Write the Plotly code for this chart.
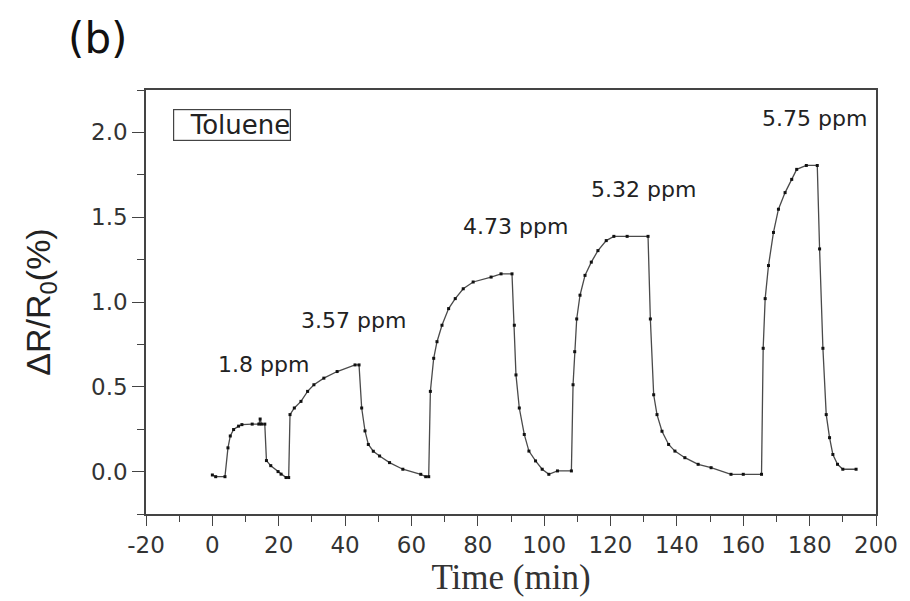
import plotly.graph_objects as go

# ---- data ----
time_min = [
    0.0, 1.0, 3.8,
    4.7, 5.4, 6.4, 7.9, 8.9, 12.0, 14.0, 14.4, 14.8, 15.8,
    16.3, 17.6, 19.8, 20.7, 22.2, 23.0,
    23.4, 24.7, 26.7, 28.7, 30.6, 33.6, 37.6, 43.0, 44.2,
    45.0, 46.0, 47.0, 48.5, 50.4, 53.4, 57.4, 62.8, 64.3, 65.2,
    65.7, 66.7, 67.7, 69.2, 71.2, 73.2, 75.6, 78.6, 84.0, 87.0, 90.3,
    91.0, 91.5, 92.5, 94.0, 95.4, 97.4, 99.4, 101.4, 104.0, 108.2,
    108.7, 109.2, 109.8, 110.8, 112.3, 114.2, 116.2, 118.7, 121.0, 125.0, 131.3,
    132.0, 133.0, 134.0, 135.5, 137.5, 139.4, 142.4, 146.4, 150.3, 156.3, 160.0, 165.5,
    166.0, 166.6, 167.6, 169.1, 170.6, 172.6, 174.6, 176.1, 179.0, 182.3,
    183.0, 184.0, 185.0, 186.0, 187.0, 188.4, 190.0, 194.0,
]
response_pct = [
    -0.02, -0.03, -0.03,
    0.14, 0.21, 0.248, 0.268, 0.277, 0.28, 0.28, 0.31, 0.28, 0.28,
    0.065, 0.035, 0.0, -0.015, -0.035, -0.035,
    0.336, 0.375, 0.414, 0.473, 0.512, 0.551, 0.59, 0.629, 0.629,
    0.375, 0.24, 0.16, 0.12, 0.092, 0.053, 0.014, -0.016, -0.03, -0.03,
    0.473, 0.668, 0.766, 0.863, 0.961, 1.02, 1.078, 1.118, 1.147, 1.166, 1.166,
    0.863, 0.57, 0.375, 0.219, 0.121, 0.063, 0.014, -0.016, 0.004, 0.004,
    0.512, 0.707, 0.90, 1.04, 1.157, 1.235, 1.303, 1.362, 1.387, 1.387, 1.387,
    0.90, 0.453, 0.336, 0.238, 0.16, 0.121, 0.082, 0.043, 0.023, -0.016, -0.016, -0.016,
    0.727, 1.02, 1.215, 1.41, 1.547, 1.645, 1.723, 1.782, 1.805, 1.805,
    1.313, 0.727, 0.336, 0.2, 0.101, 0.043, 0.014, 0.014,
]
assert len(time_min) == len(response_pct)

conc_labels = ["1.8 ppm", "3.57 ppm", "4.73 ppm", "5.32 ppm", "5.75 ppm"]
conc_label_x = [15.5, 42.5, 91.5, 130.0, 181.5]
conc_label_y = [0.633, 0.891, 1.448, 1.665, 2.081]

x_ticks = [-20, 0, 20, 40, 60, 80, 100, 120, 140, 160, 180, 200]
x_tick_text = ["-20", "0", "20", "40", "60", "80", "100", "120", "140", "160", "180", "200"]
y_ticks = [0.0, 0.5, 1.0, 1.5, 2.0]
y_tick_text = ["0.0", "0.5", "1.0", "1.5", "2.0"]

series_name = "Toluene"

fig = go.Figure()
fig.add_trace(go.Scatter(
    x=time_min, y=response_pct, name=series_name, mode="lines+markers",
    line=dict(color="#4a4a4a", width=1.3),
    marker=dict(symbol="square", size=3, color="#111111"),
    showlegend=False,
))

for txt, xx, yy in zip(conc_labels, conc_label_x, conc_label_y):
    fig.add_annotation(x=xx, y=yy, text=txt, showarrow=False,
                       font=dict(family="DejaVu Sans", size=22, color="#222222"))

# panel label "(b)"
fig.add_annotation(x=(97 - 146) / 741, y=(517 - 38) / 427, xref="paper", yref="paper",
                   text="(b)", showarrow=False, xanchor="center", yanchor="middle",
                   font=dict(family="DejaVu Sans", size=42, color="#111111"))

# legend-like boxed label
fig.add_annotation(x=(173 - 146) / 741, y=(517 - 109) / 427, xref="paper", yref="paper",
                   text="  " + series_name, showarrow=False, xanchor="left", yanchor="top",
                   bordercolor="#444444", borderwidth=1.2, borderpad=0, bgcolor="white",
                   font=dict(family="DejaVu Sans", size=26, color="#222222"))

axis_common = dict(showline=True, linecolor="#444444", linewidth=1.5, mirror=True,
                   showgrid=False, zeroline=False, ticks="outside", tickcolor="#444444",
                   tickwidth=1.3,
                   tickfont=dict(family="DejaVu Sans", size=23, color="#333333"))

fig.update_xaxes(range=[-20, 200], tickvals=x_ticks, ticktext=x_tick_text, ticklen=10,
                 minor=dict(ticks="outside", ticklen=6, dtick=10, tickcolor="#444444"),
                 title=dict(text="Time (min)", standoff=6,
                            font=dict(family="Liberation Serif", size=35, color="#333333")),
                 **axis_common)
fig.update_yaxes(range=[-0.25, 2.25], tickvals=y_ticks, ticktext=y_tick_text, ticklen=12,
                 minor=dict(ticks="outside", ticklen=7, dtick=0.25, tickcolor="#444444"),
                 title=dict(text="ΔR/R<sub>0</sub>(%)", standoff=30,
                            font=dict(family="Liberation Sans", size=34, color="#222222")),
                 **axis_common)

fig.update_layout(
    width=910, height=601,
    margin=dict(l=146, r=23, t=90, b=84),
    paper_bgcolor="white", plot_bgcolor="white",
    showlegend=False,
)

fig.write_html("out.html")
